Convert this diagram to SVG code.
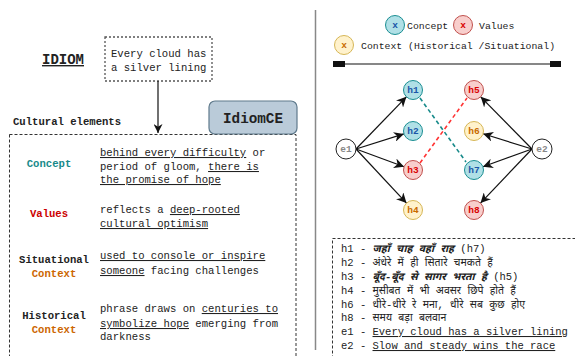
<svg xmlns="http://www.w3.org/2000/svg" width="575" height="356" viewBox="0 0 575 356">
<style>
text{font-family:"Liberation Mono","Noto Sans Devanagari","Noto Sans","DejaVu Sans Mono",monospace;fill:#222}
.b{font-weight:bold}
.d{font-size:10.6px}
.u{text-decoration:underline}
.lab{font-size:10.6px;font-weight:bold;text-anchor:middle}
.nt{font-size:9.5px;font-weight:bold;text-anchor:middle}
.cc{fill:#b0e0e6;stroke:#1a8e92;stroke-width:1}
.cv{fill:#f8cecc;stroke:#c0504d;stroke-width:1}
.cx{fill:#fff2cc;stroke:#d6b656;stroke-width:1}
.ce{fill:#fff;stroke:#222;stroke-width:1}
.tc{fill:#1a56a8}
.tv{fill:#d80000}
.tx{fill:#c86a00}
.te{fill:#888}
.arr{stroke:#111;stroke-width:1.2;fill:none;marker-end:url(#ah)}
.lg{font-size:10.5px}
</style>
<defs>
<marker id="ah" viewBox="0 0 10 10" refX="10" refY="5" markerWidth="10" markerHeight="10" markerUnits="userSpaceOnUse" orient="auto">
<path d="M0,0 L10,5 L0,10 L3,5 z" fill="#111"/>
</marker>
<marker id="ahd" viewBox="0 0 10 10" refX="10" refY="5" markerWidth="9" markerHeight="9" markerUnits="userSpaceOnUse" orient="auto">
<path d="M0,0 L10,5 L0,10 L3,5 z" fill="#111"/>
</marker>
</defs>

<!-- divider -->
<line x1="315.5" y1="10" x2="315.5" y2="350" stroke="#888" stroke-width="1.5"/>

<g id="idiom-title">
<text x="63" y="64" class="b u" font-size="14" text-anchor="middle">IDIOM</text>
</g>

<g id="idiom-box">
<rect x="105" y="37" width="107" height="44" fill="#fff" stroke="#555" stroke-width="1.3" stroke-dasharray="2,2"/>
<text x="111" y="57" class="d">Every cloud has</text>
<text x="111" y="71" class="d">a silver lining</text>
</g>

<g id="cultural-title">
<text x="13" y="125" class="b d">Cultural elements</text>
</g>

<g id="cultural-box">
<rect x="9.5" y="134.5" width="286.5" height="240" fill="none" stroke="#333" stroke-width="1" stroke-dasharray="3,2"/>
<text x="49" y="167" class="lab" style="fill:#178a8a">Concept</text>
<text x="100" y="156" class="d"><tspan class="u">behind every difficulty</tspan> or</text>
<text x="100" y="170" class="d">period of gloom, <tspan class="u">there is</tspan></text>
<text x="100" y="183" class="d"><tspan class="u">the promise of hope</tspan></text>

<text x="49" y="217" class="lab" style="fill:#cc0000">Values</text>
<text x="100" y="213" class="d">reflects a <tspan class="u">deep-rooted</tspan></text>
<text x="100" y="227" class="d"><tspan class="u">cultural optimism</tspan></text>

<text x="54" y="263" class="lab">Situational</text>
<text x="54" y="277" class="lab" style="fill:#cc6600">Context</text>
<text x="100" y="259" class="d"><tspan class="u">used to console or inspire</tspan></text>
<text x="100" y="274" class="d"><tspan class="u">someone</tspan> facing challenges</text>

<text x="54" y="319" class="lab">Historical</text>
<text x="54" y="333" class="lab" style="fill:#cc6600">Context</text>
<text x="100" y="312" class="d">phrase draws on <tspan class="u">centuries to</tspan></text>
<text x="100" y="327" class="d"><tspan class="u">symbolize hope</tspan> emerging from</text>
<text x="100" y="340" class="d">darkness</text>
</g>

<g id="idiomce">
<rect x="209" y="101" width="88" height="33" rx="6" fill="#bacbd9" stroke="#5f7a8c" stroke-width="1.2"/>
<text x="253" y="123" class="b" font-size="14.3" text-anchor="middle">IdiomCE</text>
</g>

<g id="legend">
<circle cx="395" cy="25" r="9.5" class="cc"/>
<text x="395" y="28" class="nt tc">x</text>
<text x="407" y="29" font-size="9.8">Concept</text>
<circle cx="463" cy="25" r="9.5" class="cv"/>
<text x="463" y="28" class="nt tv">x</text>
<text x="479" y="29" font-size="9.8">Values</text>
<circle cx="344" cy="45" r="9.5" class="cx"/>
<text x="344" y="48" class="nt tx">x</text>
<text x="361" y="49" font-size="9.8">Context (Historical /Situational)</text>
<line x1="339" y1="64" x2="555" y2="64" stroke="#111" stroke-width="1.2"/>
<rect x="333" y="61" width="12" height="6" fill="#111"/>
<rect x="550" y="61" width="11" height="6" fill="#111"/>
</g>

<g id="connectors">
<line class="arr" x1="356" y1="149" x2="406.4" y2="96.8"/>
<line class="arr" x1="356" y1="149" x2="403.9" y2="133.9"/>
<line class="arr" x1="356" y1="149" x2="404.1" y2="166.7"/>
<line class="arr" x1="356" y1="149" x2="406.5" y2="203.1"/>
<line class="arr" x1="532" y1="149" x2="480.7" y2="96.8"/>
<line class="arr" x1="532" y1="149" x2="483.1" y2="133.8"/>
<line class="arr" x1="532" y1="149" x2="482.9" y2="166.8"/>
<line class="arr" x1="532" y1="149" x2="480.5" y2="203.1"/>
<line x1="420" y1="98" x2="466" y2="162" stroke="#178a8a" stroke-width="1.6" stroke-dasharray="4,3"/>
<line x1="420" y1="163" x2="467" y2="98" stroke="#ff3333" stroke-width="1.6" stroke-dasharray="4,3"/>
</g>

<g id="e1"><circle cx="346" cy="149" r="10" class="ce"/><text x="346" y="152" class="nt te">e1</text></g>
<g id="e2"><circle cx="542" cy="149" r="10" class="ce"/><text x="542" y="152" class="nt te">e2</text></g>
<g id="h1"><circle cx="413" cy="90" r="9.5" class="cc"/><text x="413" y="93" class="nt tc">h1</text></g>
<g id="h2"><circle cx="413" cy="131" r="9.5" class="cc"/><text x="413" y="134" class="nt tc">h2</text></g>
<g id="h3"><circle cx="413" cy="170" r="9.5" class="cv"/><text x="413" y="173" class="nt tv">h3</text></g>
<g id="h4"><circle cx="413" cy="210" r="9.5" class="cx"/><text x="413" y="213" class="nt tx">h4</text></g>
<g id="h5"><circle cx="474" cy="90" r="9.5" class="cv"/><text x="474" y="93" class="nt tv">h5</text></g>
<g id="h6"><circle cx="474" cy="131" r="9.5" class="cx"/><text x="474" y="134" class="nt tx">h6</text></g>
<g id="h7"><circle cx="474" cy="170" r="9.5" class="cc"/><text x="474" y="173" class="nt tc">h7</text></g>
<g id="h8"><circle cx="474" cy="210" r="9.5" class="cv"/><text x="474" y="213" class="nt tv">h8</text></g>

<g id="key">
<rect x="332.5" y="238.5" width="260" height="140" fill="none" stroke="#333" stroke-width="1" stroke-dasharray="3,2"/>
<text x="341" y="252" class="lg">h1 - <tspan font-weight="bold" font-style="italic">जहाँ चाह वहाँ राह</tspan> (h7)</text>
<text x="341" y="266" class="lg">h2 - अंधेरे में ही सितारे चमकते हैं</text>
<text x="341" y="280" class="lg">h3 - <tspan font-weight="bold" font-style="italic">बूँद-बूँद से सागर भरता है</tspan> (h5)</text>
<text x="341" y="294" class="lg">h4 - मुसीबत में भी अवसर छिपे होते हैं</text>
<text x="341" y="308" class="lg">h6 - धीरे-धीरे रे मना, धीरे सब कुछ होए</text>
<text x="341" y="321" class="lg">h8 - समय बड़ा बलवान</text>
<text x="341" y="335" class="lg">e1 - <tspan class="u">Every cloud has a silver lining</tspan></text>
<text x="341" y="349" class="lg">e2 - <tspan class="u">Slow and steady wins the race</tspan></text>
</g>

<g id="main-arrow">
<line x1="158" y1="81" x2="158" y2="133" stroke="#111" stroke-width="1.2" marker-end="url(#ahd)"/>
</g>
</svg>
